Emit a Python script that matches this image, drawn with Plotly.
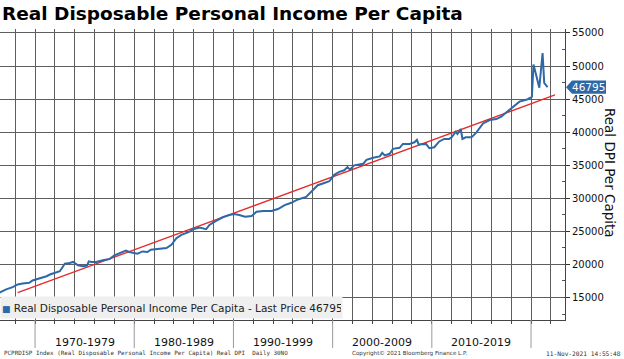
import plotly.graph_objects as go

# ---- data ----
dates = [
    "1966-06", "1967-02", "1967-10", "1968-04", "1968-10", "1969-06", "1969-10",
    "1970-06", "1971-03", "1971-07", "1972-01", "1972-07", "1972-11", "1973-01",
    "1973-07", "1973-11", "1974-05", "1974-11", "1975-04", "1975-06", "1975-09",
    "1976-03", "1976-11", "1977-07", "1978-01", "1978-07", "1979-03", "1979-07",
    "1980-05", "1980-11", "1981-05", "1981-09", "1982-08", "1983-04", "1983-10",
    "1984-04", "1984-10", "1985-04", "1985-08", "1985-12", "1986-08", "1987-04",
    "1987-08", "1988-04", "1988-12", "1989-08", "1990-02", "1990-08", "1991-03",
    "1991-11", "1992-05", "1993-01", "1993-11", "1994-07", "1995-03", "1995-11",
    "1996-07", "1997-05", "1998-01", "1998-07", "1999-03", "1999-09", "2000-03",
    "2000-09", "2001-03", "2001-07", "2001-10", "2002-03", "2003-02", "2003-06",
    "2004-02", "2004-10", "2005-01", "2005-04", "2005-10", "2006-02", "2006-10",
    "2007-02", "2007-10", "2008-04", "2008-07", "2008-09", "2009-06", "2009-10",
    "2010-04", "2010-10", "2011-04", "2011-10", "2012-01", "2012-06", "2012-08",
    "2012-12", "2013-02", "2013-06", "2014-01", "2014-07", "2015-03", "2015-11",
    "2016-07", "2017-01", "2017-07", "2018-03", "2018-11", "2019-05", "2019-09",
    "2020-02", "2020-04", "2020-11", "2021-03", "2021-05", "2021-08", "2021-09",
]
values = [
    15730, 16230, 16570, 16980, 17130, 17230, 17580,
    17830, 18220, 18480, 18730, 18970, 19720, 20130,
    20230, 20380, 19870, 19720, 19830, 20470, 20380,
    20380, 20620, 20830, 21370, 21630, 22080, 21880,
    21630, 21970, 21880, 22230, 22330, 22480, 22980,
    23980, 24480, 24820, 24970, 25330, 25570, 25330,
    25980, 26580, 27130, 27480, 27630, 27480, 27220,
    27330, 27970, 28080, 28080, 28380, 28980, 29320,
    29830, 30220, 31230, 31980, 32320, 32580, 33550,
    34000, 34230, 34720, 34330, 34980, 35230, 35830,
    36130, 36330, 36880, 36480, 36730, 37480, 37630,
    38230, 38230, 38470, 38830, 38130, 38230, 37570,
    37720, 38600, 38980, 38980, 39220, 40080, 39730,
    40480, 38980, 39220, 39220, 39970, 41320, 41830,
    41980, 42330, 42970, 43830, 44620, 44830, 44980,
    45330, 50230, 46720, 51970, 47470, 46980, 46795,
]
trend_dates = ["1968-04", "2022-06"]
trend_values = [15730, 45625]

decade_starts = ["1970-01-01", "1980-01-01", "1990-01-01", "2000-01-01", "2010-01-01", "2020-01-01"]
decade_mids = ["1975-01-01", "1985-01-01", "1995-01-01", "2005-01-01", "2015-01-01"]
decade_labels = ["1970-1979", "1980-1989", "1990-1999", "2000-2009", "2010-2019"]

series_name = "Real Disposable Personal Income Per Capita"
title_text = "Real Disposable Personal Income Per Capita"
axis_title = "Real DPI Per Capita"
footer_left = "PCPRDISP Index (Real Disposable Personal Income Per Capita) Real DPI  Daily 30NO"
footer_mid = "Copyright\u00a9 2021 Bloomberg Finance L.P."
footer_right = "11-Nov-2021 14:55:48"

BLUE = "#2d69a6"
RED = "#e52a2a"
GRID = "#5e5e5e"
FONT = "DejaVu Sans"

W, H = 624, 359
ML, MR, MT, MB = 0, 59, 29, 39
PW = W - ML - MR
PH = H - MT - MB

def px_x(px):
    return (px - ML) / PW

def px_y(py):
    return (H - MB - py) / PH

fig = go.Figure()
fig.add_trace(go.Scatter(x=trend_dates, y=trend_values, mode="lines",
                         line=dict(color=RED, width=1.3), showlegend=False,
                         hoverinfo="skip"))
fig.add_trace(go.Scatter(x=dates, y=values, mode="lines", name=series_name,
                         line=dict(color=BLUE, width=2), showlegend=False))

last_val = values[-1]

fig.update_layout(
    width=W, height=H, autosize=False,
    margin=dict(l=ML, r=MR, t=MT, b=MB, pad=0),
    paper_bgcolor="white", plot_bgcolor="white",
    font=dict(family=FONT, color="#111"),
    hovermode=False,
    title=dict(text="<b>" + title_text + "</b>", x=2 / W, xanchor="left",
               xref="container", y=1 - 14 / H, yanchor="middle",
               font=dict(family=FONT, size=18.5, color="#000")),
    xaxis=dict(type="date", range=["1966-06-20", "2023-06-05"],
               showgrid=True, gridcolor=GRID, gridwidth=1,
               tick0="1970-01-01", dtick="M24",
               ticks="outside", ticklen=3, tickcolor="#444",
               showline=True, linecolor="#444", linewidth=1,
               showticklabels=False, zeroline=False, automargin=False),
    yaxis=dict(side="right", range=[11600, 55600],
               showgrid=True, gridcolor=GRID, gridwidth=1,
               tick0=0, dtick=5000, tickformat="d",
               ticks="outside", ticklen=4, tickcolor="#333",
               minor=dict(dtick=2500, ticks="inside", ticklen=3, tickcolor="#555", showgrid=False),
               showline=True, linecolor="#444", linewidth=1,
               tickfont=dict(family=FONT, size=10, color="#111"),
               zeroline=False, automargin=False),
)

shapes = []
for d in decade_starts:
    shapes.append(dict(type="line", xref="x", yref="paper", x0=d, x1=d,
                       y0=0, y1=px_y(348), line=dict(color="#9a9a9a", width=1)))

# last price tag
h = 1000
tip = px_x(566)
b0 = px_x(572)
b1 = px_x(606)
shapes.append(dict(type="path", xref="paper", yref="y", layer="above",
                   path=f"M {tip},{last_val} L {b0},{last_val + h} L {b1},{last_val + h} "
                        f"L {b1},{last_val - h} L {b0},{last_val - h} Z",
                   fillcolor=BLUE, line=dict(color=BLUE, width=0)))
fig.update_layout(shapes=shapes)

ann = []
for m, lab in zip(decade_mids, decade_labels):
    ann.append(dict(x=m, y=px_y(342), xref="x", yref="paper", text=lab,
                    showarrow=False, xanchor="center", yanchor="middle",
                    font=dict(family=FONT, size=11, color="#111")))

ann.append(dict(x=(b0 + b1) / 2, y=last_val, xref="paper", yref="y",
                text=f"{last_val}", showarrow=False, xanchor="center", yanchor="middle",
                font=dict(family=FONT, size=10.5, color="white")))

ann.append(dict(x=px_x(610), y=px_y(173), xref="paper", yref="paper",
                text=axis_title, textangle=90, showarrow=False,
                xanchor="center", yanchor="middle",
                font=dict(family=FONT, size=13.5, color="#111")))

ann.append(dict(x=0, y=px_y(307.5), xref="paper", yref="paper",
                text=f"<span style='color:{BLUE};font-size:9px'>\u25a0</span> {series_name} - Last Price {last_val}",
                showarrow=False, xanchor="left", yanchor="middle", align="left",
                width=339, height=19, bgcolor="#efefef", borderpad=1,
                font=dict(family=FONT, size=10.5, color="#222")))

ann.append(dict(x=px_x(2), y=px_y(353), xref="paper", yref="paper", text=footer_left,
                showarrow=False, xanchor="left", yanchor="middle",
                font=dict(family="DejaVu Sans Mono", size=5.9, color="#333")))
ann.append(dict(x=px_x(350), y=px_y(353), xref="paper", yref="paper", text=footer_mid,
                showarrow=False, xanchor="left", yanchor="middle",
                font=dict(family=FONT, size=5.6, color="#333")))
ann.append(dict(x=px_x(623), y=px_y(353), xref="paper", yref="paper", text=footer_right,
                showarrow=False, xanchor="right", yanchor="middle",
                font=dict(family="DejaVu Sans Mono", size=6.2, color="#333")))

fig.update_layout(annotations=ann)

fig.write_html("out.html", config={"displayModeBar": False, "staticPlot": True},
               post_script="document.body.style.margin='0px';document.body.style.overflow='hidden';")
